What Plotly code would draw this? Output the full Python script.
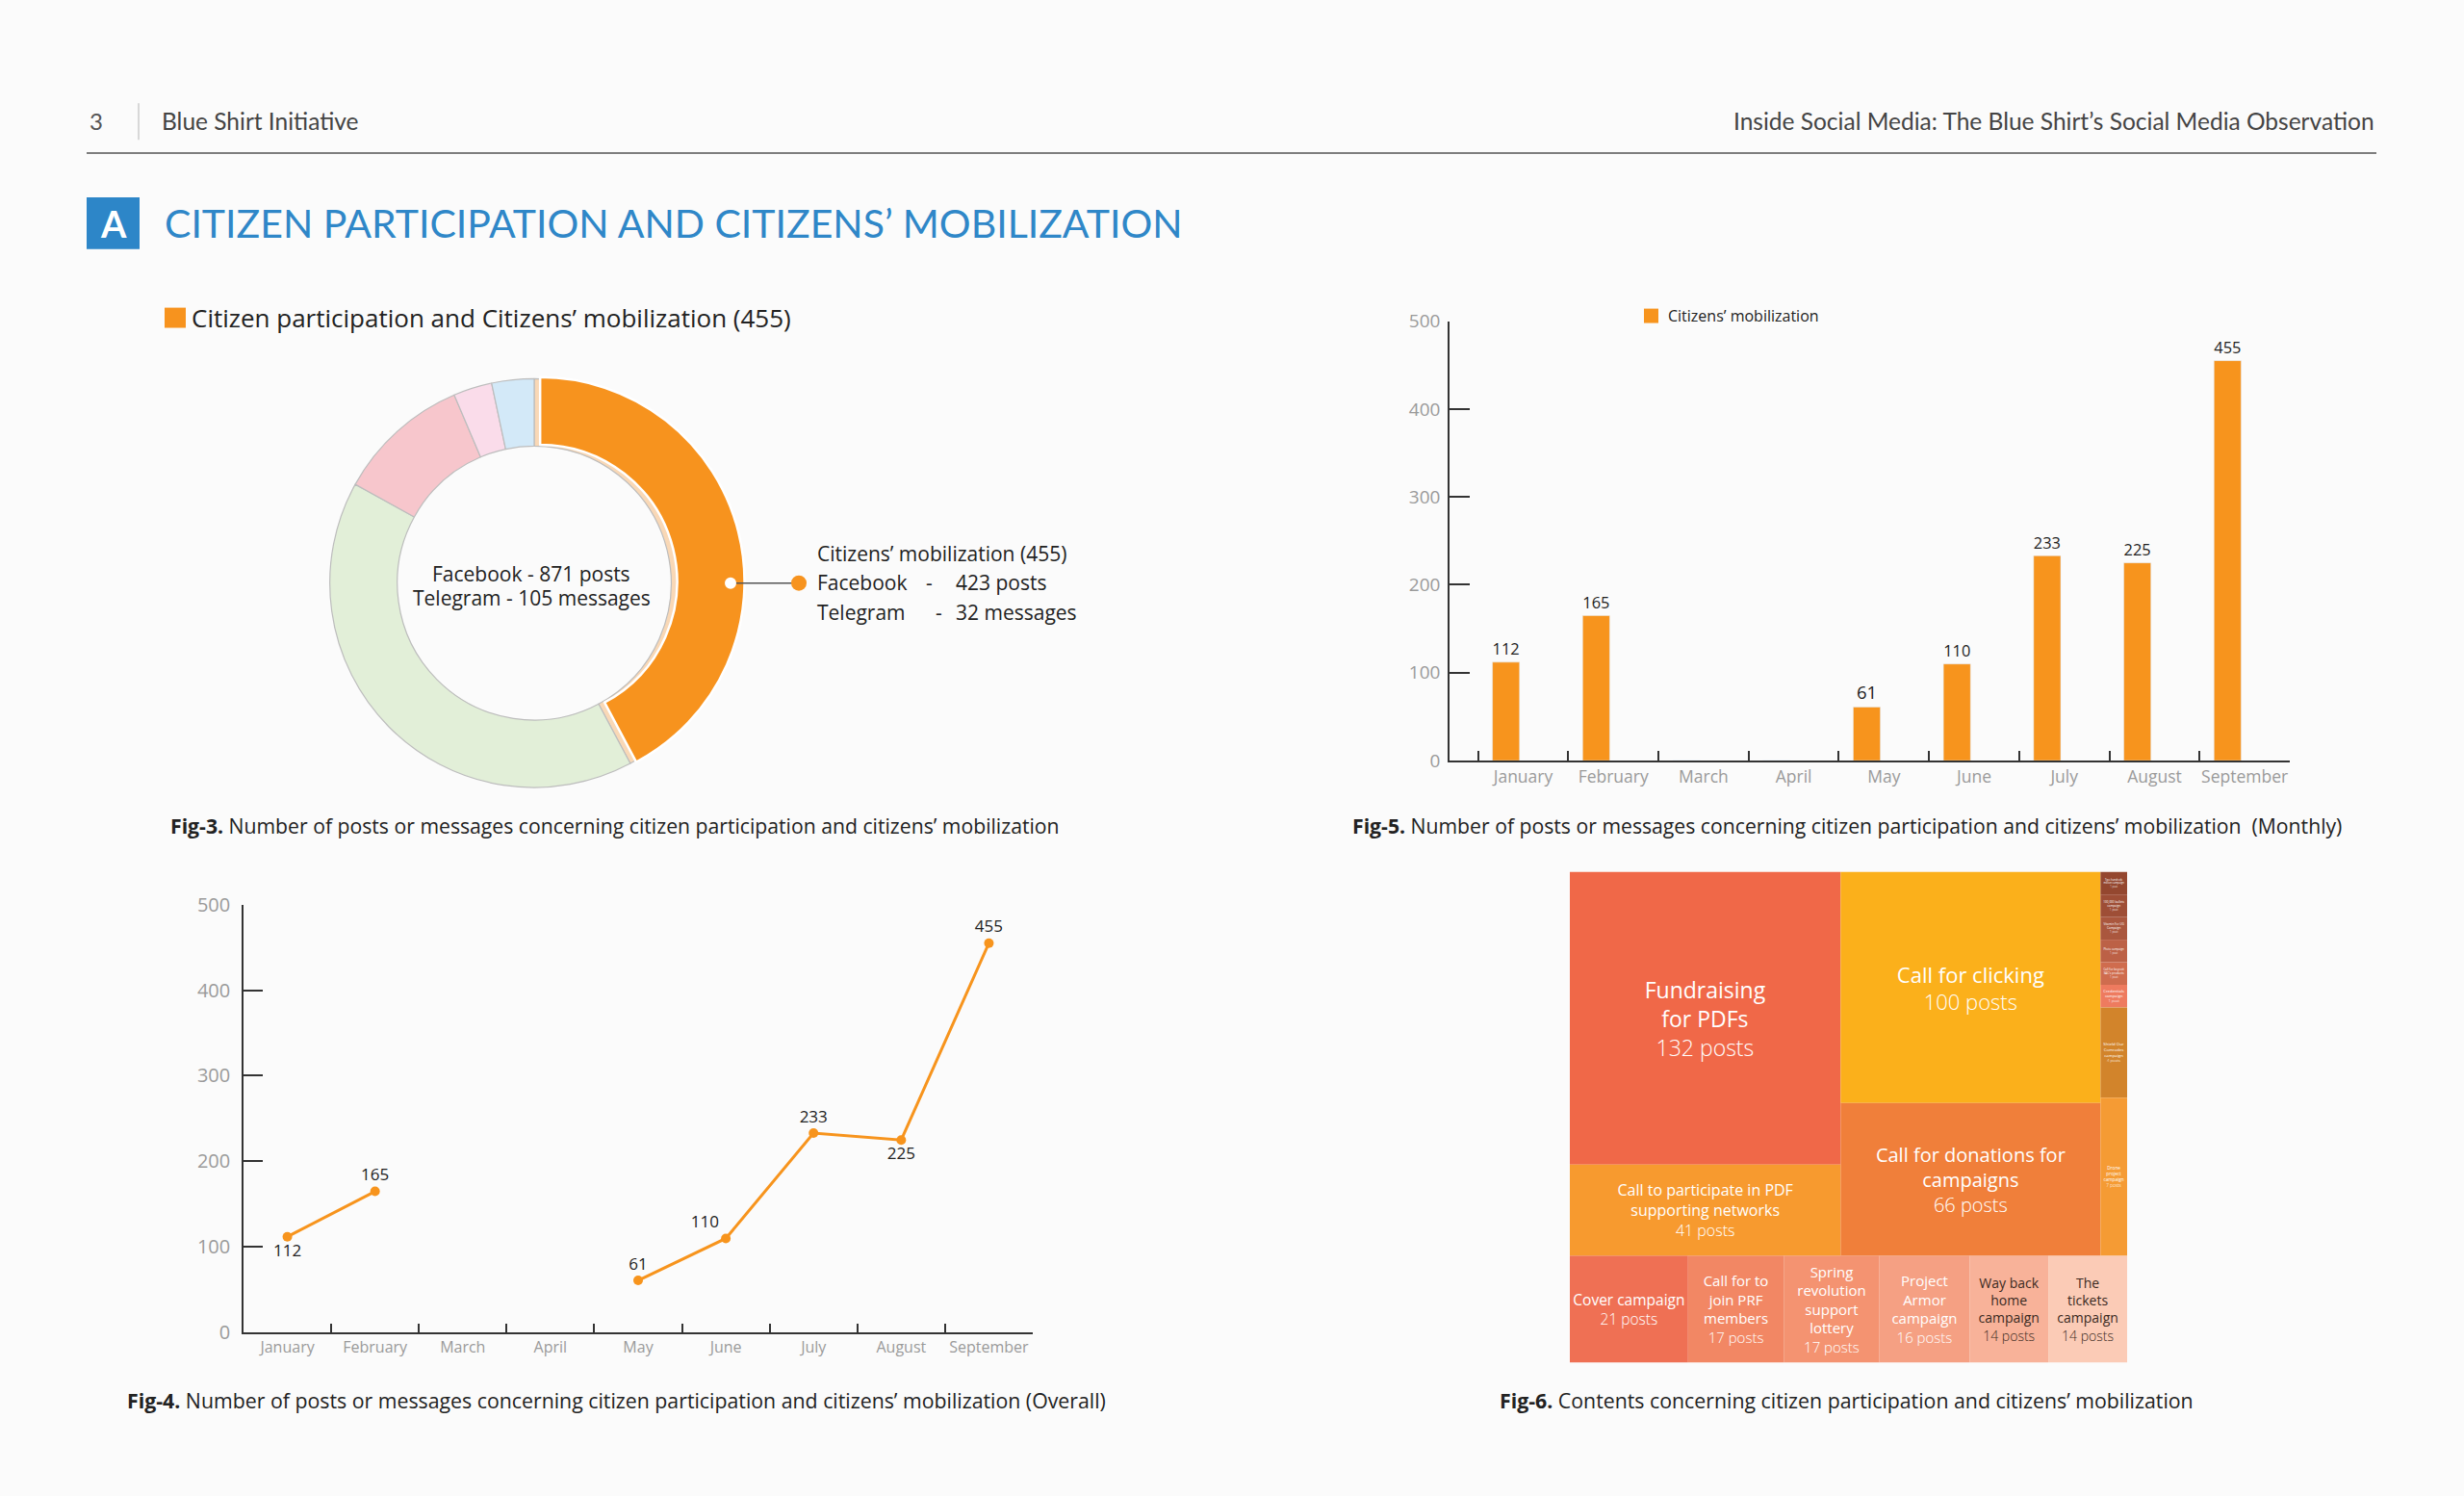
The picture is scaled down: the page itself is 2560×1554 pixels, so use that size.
import plotly.graph_objects as go

W, H = 2560, 1554
FONT = "Open Sans"
ORANGE = "#F7941D"
DARK = "#222222"
GRAY_TICK = "#9A9A9A"
BG = "#FBFBFB"

# vertical calibration of the page (measured: rendered = 0.9857 * y + 10.45)
Y_SCALE, Y_OFF = 0.9857, 10.45


def px(x):
    return x / W


def py(y):
    return 1 - ((y - Y_OFF) / Y_SCALE) / H


# ---------------- data ----------------
months = ["January", "February", "March", "April", "May", "June", "July", "August", "September"]
monthly_posts = [112, 165, None, None, 61, 110, 233, 225, 455]
line_text_pos = ["bottom center", "top center", "top center", "top center", "top center",
                 "top left", "top center", "bottom center", "top center"]

donut_labels = ["Citizens' mobilization", "Category 2", "Category 3", "Category 4", "Category 5"]
donut_values = [455, 440, 114, 33, 36]
donut_colors = ["#F7931E", "#E2EFD8", "#F7C6CC", "#FADCEA", "#D3E9F8"]

tm_ids = ["root", "top", "bottom", "colL", "colM", "colR",
          "Fundraising", "Participate", "Clicking", "Donations",
          "TwoHundreds", "Bullets", "Vitamin", "Photo", "Boycott", "Credentials", "Shield", "Drone",
          "Cover", "JoinPRF", "Spring", "Armor", "WayBack", "Tickets"]
tm_parents = ["", "root", "root", "top", "top", "top",
              "colL", "colL", "colM", "colM",
              "colR", "colR", "colR", "colR", "colR", "colR", "colR", "colR",
              "bottom", "bottom", "bottom", "bottom", "bottom", "bottom"]
tm_names = ["", "", "", "", "", "",
            "Fundraising<br>for PDFs", "Call to participate in PDF<br>supporting networks",
            "Call for clicking", "Call for donations for<br>campaigns",
            "Two hundreds<br>million campaign", "100,000 bullets<br>campaign", "Vitamin For UG<br>Campaign",
            "Photo campaign", "Call for boycott<br>SAC's products", "Credentials<br>campaign",
            "Shield Our<br>Comrades<br>campaign", "Drone<br>project<br>campaign",
            "Cover campaign", "Call for to<br>join PRF<br>members", "Spring<br>revolution<br>support<br>lottery",
            "Project<br>Armor<br>campaign", "Way back<br>home<br>campaign", "The<br>tickets<br>campaign"]
tm_leaf_values = {"Fundraising": 132, "Participate": 41, "Clicking": 100, "Donations": 66,
                  "TwoHundreds": 1, "Bullets": 1, "Vitamin": 1, "Photo": 1, "Boycott": 1,
                  "Credentials": 1, "Shield": 4, "Drone": 7,
                  "Cover": 21, "JoinPRF": 17, "Spring": 17, "Armor": 16, "WayBack": 14, "Tickets": 14}
tm_colors = ["rgba(0,0,0,0)", "rgba(0,0,0,0)", "rgba(0,0,0,0)", "rgba(0,0,0,0)", "rgba(0,0,0,0)", "rgba(0,0,0,0)",
             "#F06848", "#F79A2F", "#FBB01B", "#F07F3A",
             "#94472F", "#9E4E36", "#AA573E", "#BC6146", "#CF6C4E", "#EE7B5F", "#D2842B", "#F59B34",
             "#EF7054", "#F28764", "#F49371", "#F5A083", "#F8B299", "#FBCBB6"]
tm_sizes = [10, 10, 10, 10, 10, 10,
            23, 16, 22, 20,
            6, 6, 6, 6, 6, 6, 6, 6,
            15.5, 15, 15, 15, 14, 14]
tm_textcol = ["white"] * 22 + ["#3A2A22", "#3A2A22"]

# compute totals for branch nodes
children = {}
for i, p in zip(tm_ids, tm_parents):
    children.setdefault(p, []).append(i)


def total(node):
    if node in tm_leaf_values:
        return tm_leaf_values[node]
    return sum(total(c) for c in children.get(node, []))


tm_values = [total(i) for i in tm_ids]
tm_text = []
for i, n in zip(tm_ids, tm_names):
    if i in tm_leaf_values:
        v = tm_leaf_values[i]
        tm_text.append(f"{n}<br><span style='font-weight:300'>{v} post{'s' if v != 1 else ''}</span>")
    else:
        tm_text.append("")

fig = go.Figure()

# ---------------- donut (Fig-3) ----------------
cx, cy, R, pull = 555, 604, 213, 0.03
base_colors = ["#F9D8B6"] + donut_colors[1:]
fig.add_trace(go.Pie(
    labels=donut_labels, values=donut_values, sort=False, direction="clockwise", rotation=0,
    hole=0.67, textinfo="none", hoverinfo="skip", showlegend=False,
    marker=dict(colors=base_colors, line=dict(color="#BDBDBD", width=1.2)),
    domain=dict(x=[px(cx - R), px(cx + R)], y=[py(cy + R), py(cy - R)]),
))
Rp = R * (1 + pull)
fig.add_trace(go.Pie(
    labels=donut_labels, values=donut_values, sort=False, direction="clockwise", rotation=0,
    hole=0.67, textinfo="none", hoverinfo="skip", showlegend=False,
    pull=[pull, 0, 0, 0, 0],
    marker=dict(colors=[donut_colors[0]] + ["rgba(0,0,0,0)"] * 4,
                line=dict(color=["white"] + ["rgba(0,0,0,0)"] * 4, width=[2.5, 0, 0, 0, 0])),
    domain=dict(x=[px(cx - Rp), px(cx + Rp)], y=[py(cy + Rp), py(cy - Rp)]),
))

# ---------------- bar (Fig-5) ----------------
fig.add_trace(go.Bar(
    x=months, y=[v if v is not None else 0 for v in monthly_posts],
    text=[str(v) if v is not None else "" for v in monthly_posts],
    textposition="outside", textfont=dict(family=FONT, size=18.5, color=DARK),
    marker=dict(color=ORANGE), width=0.3, offset=-0.34, cliponaxis=False,
    xaxis="x", yaxis="y", showlegend=False, hoverinfo="skip",
))

# ---------------- line (Fig-4) ----------------
fig.add_trace(go.Scatter(
    x=months, y=monthly_posts, mode="lines+markers+text",
    text=[str(v) if v is not None else "" for v in monthly_posts],
    textposition=line_text_pos, textfont=dict(family=FONT, size=17, color=DARK),
    line=dict(color=ORANGE, width=3), marker=dict(color=ORANGE, size=10),
    connectgaps=False, cliponaxis=False, xaxis="x2", yaxis="y2", showlegend=False, hoverinfo="skip",
))

# ---------------- treemap (Fig-6) ----------------
fig.add_trace(go.Treemap(
    ids=tm_ids, labels=tm_ids, parents=tm_parents, values=tm_values, branchvalues="total",
    text=tm_text, texttemplate="%{text}", textposition="middle center",
    textfont=dict(family=FONT, size=tm_sizes, color=tm_textcol),
    marker=dict(colors=tm_colors, line=dict(width=0), pad=dict(t=0, l=0, r=0, b=0)),
    tiling=dict(packing="dice-slice", pad=0),
    sort=False, pathbar=dict(visible=False), hoverinfo="skip",
    domain=dict(x=[px(1631), px(2210)], y=[py(1416), py(905)]),
))

axis_common = dict(showgrid=False, zeroline=False, showline=True, linecolor="#333333", linewidth=1.5,
                   ticks="inside", tickcolor="#333333", tickwidth=1.5, tickangle=0, fixedrange=True)


def tfont(size):
    return dict(family=FONT, size=size, color=GRAY_TICK)


fig.update_layout(
    width=W, height=H, margin=dict(l=0, r=0, t=0, b=0),
    paper_bgcolor=BG, plot_bgcolor="rgba(0,0,0,0)",
    font=dict(family=FONT, color=DARK),
    xaxis=dict(domain=[px(1506), px(2379)], type="category", categoryorder="array", categoryarray=months,
               range=[-0.816, 8.5], tickson="boundaries", ticklen=10, anchor="y", tickfont=tfont(17.5),
               **axis_common),
    yaxis=dict(domain=[py(789), py(331)], range=[0, 500], tickvals=[0, 100, 200, 300, 400, 500],
               ticklen=21, anchor="x", tickfont=tfont(19), ticklabelstandoff=4, **axis_common),
    xaxis2=dict(domain=[px(253), px(1073)], type="category", categoryorder="array", categoryarray=months,
                range=[-0.5, 8.5], tickson="boundaries", ticklen=10, anchor="y2", tickfont=tfont(16),
                **axis_common),
    yaxis2=dict(domain=[py(1385), py(939)], range=[0, 500], tickvals=[0, 100, 200, 300, 400, 500],
                ticklen=20, anchor="x2", tickfont=tfont(20), ticklabelstandoff=8, **axis_common),
)

shapes = []
annots = []


def ann(x, y, text, size, color=DARK, xanchor="left", family=FONT, **kw):
    annots.append(dict(x=px(x), y=py(y), xref="paper", yref="paper", text=text, showarrow=False,
                       xanchor=xanchor, yanchor="middle", font=dict(family=family, size=size, color=color), **kw))


# header
ann(91, 122, "3", 24, color="#555555", family="Lato")
shapes.append(dict(type="line", xref="paper", yref="paper", x0=px(144), x1=px(144), y0=py(104), y1=py(142),
                   line=dict(color="#CCCCCC", width=1.5)))
ann(166, 122, "Blue Shirt Initiative", 24.5, color="#444444", family="Lato")
ann(2469, 122, "Inside Social Media: The Blue Shirt\u2019s Social Media Observation", 24.5, color="#444444",
    xanchor="right", family="Lato")
shapes.append(dict(type="line", xref="paper", yref="paper", x0=px(90), x1=px(2469), y0=py(156), y1=py(156),
                   line=dict(color="#555555", width=1.5)))
# section title
shapes.append(dict(type="rect", xref="paper", yref="paper", x0=px(90), x1=px(145), y0=py(256), y1=py(202),
                   fillcolor="#2D86C8", line=dict(width=0)))
ann(117.5, 229, "<b>A</b>", 38, color="white", xanchor="center", family="Lato")
ann(169, 229, "CITIZEN PARTICIPATION AND CITIZENS\u2019 MOBILIZATION", 41, color="#2F87C8", family="Lato")

# donut legend
shapes.append(dict(type="rect", xref="paper", yref="paper", x0=px(171), x1=px(193), y0=py(338), y1=py(317),
                   fillcolor="#F7931E", line=dict(width=0)))
ann(197, 327, "Citizen participation and Citizens\u2019 mobilization (455)", 26)
# donut center
ann(552, 594, "Facebook - 871 posts", 21, xanchor="center")
ann(552, 619, "Telegram - 105 messages", 21, xanchor="center")
# callout
shapes.append(dict(type="line", xref="paper", yref="paper", x0=px(759), x1=px(830), y0=py(604), y1=py(604),
                   line=dict(color="#555555", width=1.5)))
shapes.append(dict(type="circle", xref="paper", yref="paper", x0=px(753), x1=px(765), y0=py(610), y1=py(598),
                   fillcolor="white", line=dict(width=0)))
shapes.append(dict(type="circle", xref="paper", yref="paper", x0=px(822), x1=px(838), y0=py(612), y1=py(596),
                   fillcolor="#F7931E", line=dict(width=0)))
ann(847, 573, "Citizens\u2019 mobilization (455)", 21)
ann(847, 603, "Facebook", 21)
ann(847, 634, "Telegram", 21)
ann(960, 603, "-", 21)
ann(970, 634, "-", 21)
ann(991, 603, "423 posts", 21)
ann(991, 634, "32 messages", 21)

# bar legend
shapes.append(dict(type="rect", xref="paper", yref="paper", x0=px(1708), x1=px(1723), y0=py(333), y1=py(318),
                   fillcolor=ORANGE, line=dict(width=0)))
ann(1731, 325, "Citizens\u2019 mobilization", 16)

# captions
ann(175, 857, "<b>Fig-3.</b> Number of posts or messages concerning citizen participation and citizens\u2019 mobilization", 21.2)
ann(1403, 857, "<b>Fig-5.</b> Number of posts or messages concerning citizen participation and citizens\u2019 mobilization  (Monthly)", 21.2)
ann(130, 1455, "<b>Fig-4.</b> Number of posts or messages concerning citizen participation and citizens\u2019 mobilization (Overall)", 21.3)
ann(1556, 1455, "<b>Fig-6.</b> Contents concerning citizen participation and citizens\u2019 mobilization", 21.3)

fig.update_layout(shapes=shapes, annotations=annots)
fig.write_html("out.html", config={"displayModeBar": False},
               post_script="document.body.style.margin='0';document.body.style.overflow='hidden';")
